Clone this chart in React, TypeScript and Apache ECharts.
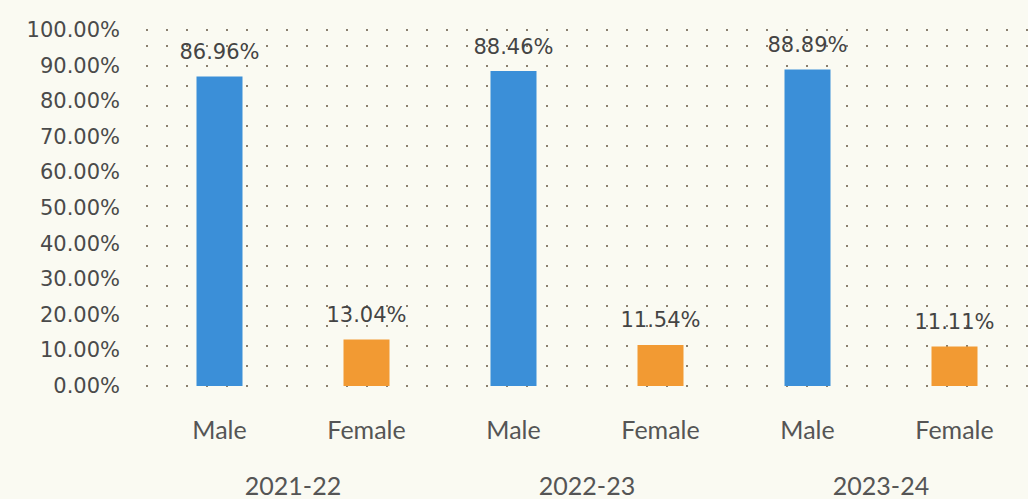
import React, { useEffect, useRef } from "react";
import * as echarts from "echarts";

const years = ["2021-22", "2022-23", "2023-24"];
const genders = ["Male", "Female"];
const maleShare = [86.96, 88.46, 88.89];
const femaleShare = [13.04, 11.54, 11.11];

export default function App() {
  const ref = useRef<HTMLDivElement>(null);
  useEffect(() => {
    if (!ref.current) return;
    const chart = echarts.init(ref.current, null, { renderer: "svg" });
    const cats: string[] = [];
    const maleData: any[] = [];
    const femaleData: any[] = [];
    years.forEach((_, i) => {
      cats.push(genders[0], genders[1]);
      maleData.push(maleShare[i], "-");
      femaleData.push("-", femaleShare[i]);
    });
    const label = {
      show: true,
      position: "top" as const,
      distance: 14,
      fontFamily: "DejaVu Sans",
      fontSize: 21,
      color: "#444",
      formatter: (p: any) => Number(p.value).toFixed(2) + "%",
    };
    chart.setOption({
      animation: false,
      backgroundColor: "#fafaf2",
      grid: { left: 146, right: -4, top: 30, bottom: 113 },
      xAxis: [
        {
          type: "category",
          data: cats,
          axisLine: { show: false },
          axisTick: { show: false },
          axisLabel: { fontFamily: "Lato", fontSize: 25, color: "#555", margin: 30 },
        },
        {
          type: "category",
          data: years,
          position: "bottom",
          offset: 56,
          axisLine: { show: false },
          axisTick: { show: false },
          axisLabel: { fontFamily: "Lato", fontSize: 25, color: "#555", margin: 30 },
        },
      ],
      yAxis: [
        {
          type: "value",
          min: 0,
          max: 100,
          interval: 10,
          axisLine: { show: false },
          axisTick: { show: false },
          splitLine: { show: false },
          axisLabel: {
            fontFamily: "DejaVu Sans",
            fontSize: 21,
            color: "#4a4a4a",
            margin: 26,
            formatter: (v: number) => v.toFixed(2) + "%",
          },
        },
        {
          type: "value",
          min: 0,
          max: 17.8,
          interval: 1,
          axisLine: { show: false },
          axisTick: { show: false },
          axisLabel: { show: false },
          splitLine: {
            show: true,
            lineStyle: { color: "#8a8070", width: 2, type: [2, 18] },
          },
        },
      ],
      series: [
        {
          name: "Male",
          type: "bar",
          stack: "g",
          barWidth: 46,
          data: maleData,
          itemStyle: { color: "#3b8fd8" },
          label,
        },
        {
          name: "Female",
          type: "bar",
          stack: "g",
          barWidth: 46,
          data: femaleData,
          itemStyle: { color: "#f29a33" },
          label,
        },
      ],
    });
    return () => chart.dispose();
  }, []);
  return (
    <div
      ref={ref}
      style={{ position: "fixed", left: 0, top: 0, width: 1028, height: 499 }}
    />
  );
}
